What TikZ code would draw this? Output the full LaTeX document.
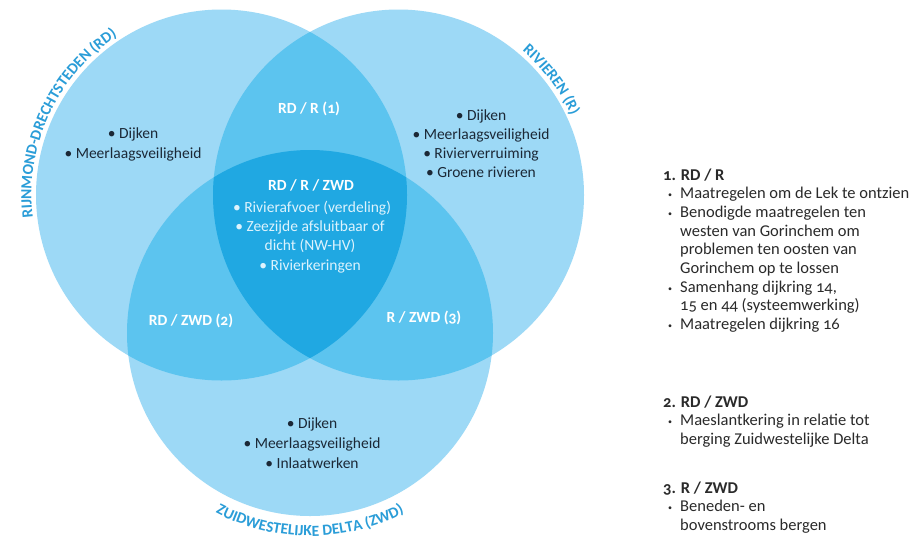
\documentclass[tikz,border=0pt]{standalone}
\usepackage{fontspec}
\setmainfont{Carlito}[Numbers=OldStyle]
\usetikzlibrary{decorations.text}
\definecolor{vlight}{HTML}{9DD9F6}
\definecolor{vmid}{HTML}{5CC4EF}
\definecolor{vdark}{HTML}{20A8E2}
\definecolor{lbl}{HTML}{2A9DD8}
\definecolor{ink}{HTML}{1B2836}
\definecolor{panel}{HTML}{2A2A2A}
\definecolor{core}{HTML}{DDF3FD}
\newcommand{\pbul}{\makebox[0pt][r]{\makebox[12pt][l]{\raisebox{1pt}{\footnotesize•}}}}
\begin{document}
\begin{tikzpicture}[x=1pt,y=-1pt,
  body/.style={font=\fontsize{15.5}{20}\selectfont, text=ink, inner sep=0pt, anchor=base},
  inter/.style={font=\fontsize{15.5}{20}\selectfont\bfseries, text=white, inner sep=0pt, anchor=base},
  corebody/.style={font=\fontsize{15.5}{20}\selectfont, text=core, inner sep=0pt, anchor=base},
  head/.style={font=\fontsize{16.5}{18.7}\selectfont\bfseries, text=panel, inner sep=0pt, anchor=base west},
  line/.style={font=\fontsize{16.5}{18.7}\selectfont, text=panel, inner sep=0pt, anchor=base west},
  arclabel/.style={decorate, decoration={text along path, text align=center,
    text={|\fontsize{15.5}{18}\selectfont\bfseries\color{lbl}|#1}}}]

% canvas
\fill[white] (0,0) rectangle (912,536);
\useasboundingbox (0,0) rectangle (912,536);

% circle centres
\coordinate (cRD) at (221.5,195);
\coordinate (cR) at (398.5,195);
\coordinate (cZ) at (310,333);
\def\rr{185.5pt}
\def\rz{183pt}

% single regions
\fill[vlight] (cRD) circle (\rr);
\fill[vlight] (cR) circle (\rr);
\fill[vlight] (cZ) circle (\rz);

% pairwise overlaps
\begin{scope}
  \clip (cRD) circle (\rr);
  \fill[vmid] (cR) circle (\rr);
  \fill[vmid] (cZ) circle (\rz);
\end{scope}
\begin{scope}
  \clip (cR) circle (\rr);
  \fill[vmid] (cZ) circle (\rz);
\end{scope}

% common core
\begin{scope}
  \clip (cRD) circle (\rr);
  \clip (cR) circle (\rr);
  \fill[vdark] (cZ) circle (\rz);
\end{scope}

% circle titles
\path[arclabel={RIJNMOND-DRECHTSTEDEN (RD)}] (cRD) ++(205:190pt) arc[start angle=205, end angle=105, radius=190pt];
\path[arclabel={RIVIEREN (R)}] (cR) ++(75:190pt) arc[start angle=75, end angle=-1, radius=190pt];
\path[arclabel={ZUIDWESTELIJKE DELTA (ZWD)}] (cZ) ++(225:203pt) arc[start angle=225, end angle=315, radius=203pt];

% Rijnmond-Drechtsteden only
\node[body] (rd1) at (133,138) {• Dijken};
\node[body] (rd2) at (133,158) {• Meerlaagsveiligheid};

% Rivieren only
\node[body] (r1) at (481,120) {• Dijken};
\node[body] (r2) at (481,139) {• Meerlaagsveiligheid};
\node[body] (r3) at (481,158) {• Rivierverruiming};
\node[body] (r4) at (481,177) {• Groene rivieren};

% Zuidwestelijke Delta only
\node[body] (z1) at (312,428) {• Dijken};
\node[body] (z2) at (312,448) {• Meerlaagsveiligheid};
\node[body] (z3) at (312,468) {• Inlaatwerken};

% pairwise labels
\node[inter] (rdr) at (309,113) {RD / R (1)};
\node[inter] (rdz) at (191,325) {RD / ZWD (2)};
\node[inter] (rz) at (424,322) {R / ZWD (3)};

% core
\node[inter] (c0) at (311,190) {RD / R / ZWD};
\node[corebody] (c1) at (312,212) {• Rivierafvoer (verdeling)};
\node[corebody] (c2) at (310,231) {• Zeezijde afsluitbaar of};
\node[corebody] (c3) at (310,250) {dicht (NW-HV)};
\node[corebody] (c4) at (310,270) {• Rivierkeringen};

% legend, part 1
\node[head] (h1) at (663,180) {1. RD / R};
\node[line] (l11) at (680,198.7) {\pbul Maatregelen om de Lek te ontzien};
\node[line] (l12) at (680,217.4) {\pbul Benodigde maatregelen ten};
\node[line] (l13) at (680,236.1) {westen van Gorinchem om};
\node[line] (l14) at (680,254.8) {problemen ten oosten van};
\node[line] (l15) at (680,273.5) {Gorinchem op te lossen};
\node[line] (l16) at (680,292.2) {\pbul Samenhang dijkring 14,};
\node[line] (l17) at (680,310.9) {15 en 44 (systeemwerking)};
\node[line] (l18) at (680,329.6) {\pbul Maatregelen dijkring 16};

% legend, part 2
\node[head] (h2) at (663,407) {2. RD / ZWD};
\node[line] (l21) at (680,425.5) {\pbul Maeslantkering in relatie tot};
\node[line] (l22) at (680,444) {berging Zuidwestelijke Delta};

% legend, part 3
\node[head] (h3) at (663,493) {3. R / ZWD};
\node[line] (l31) at (680,511.5) {\pbul Beneden- en};
\node[line] (l32) at (680,530) {bovenstrooms bergen};
\end{tikzpicture}
\end{document}
